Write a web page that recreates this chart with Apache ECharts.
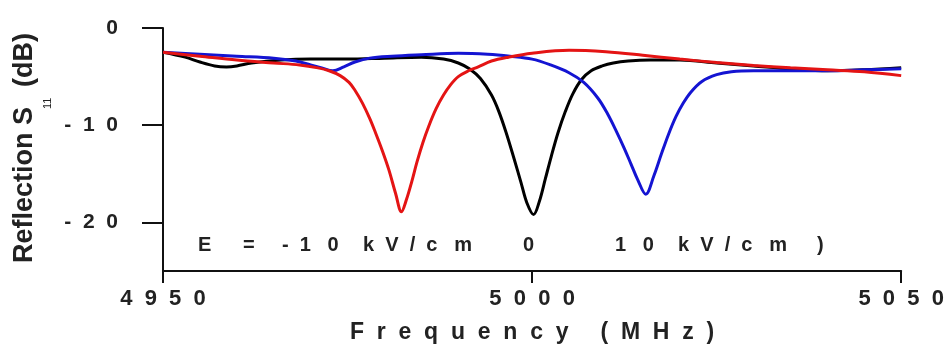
<!DOCTYPE html>
<html><head><meta charset="utf-8">
<script src="https://cdn.jsdelivr.net/npm/echarts@6/dist/echarts.min.js"></script>
<style>html,body{margin:0;padding:0;background:#fff}#c{width:947px;height:350px}</style>
</head><body><div id="c"></div>
<script>
// Data (frequency in MHz, reflection S11 in dB)
const fBlack = [4950,4953,4955,4957,4958.6,4960,4962,4966,4970,4975,4980,4985,4988,4990,4991.5,4993,4994.5,4995.5,4996.5,4997.5,4998.5,4999.3,5000.2,5001,5001.8,5002.6,5003.5,5004.5,5005.5,5006.7,5008,5009.5,5011,5013,5016,5020,5025,5030,5035,5040,5045,5050];
const sBlack = [-2.5,-3.0,-3.5,-3.9,-4.0,-3.9,-3.6,-3.3,-3.2,-3.2,-3.1,-3.0,-3.2,-3.6,-4.2,-5.2,-6.9,-8.6,-10.8,-13.3,-15.9,-18.0,-19.2,-17.8,-15.5,-13.2,-10.8,-8.6,-6.8,-5.3,-4.4,-3.9,-3.6,-3.4,-3.3,-3.3,-3.6,-3.9,-4.2,-4.4,-4.3,-4.1];

const fBlue = [4950,4955,4960,4965,4968,4970,4971.5,4973,4974.5,4976,4978,4981,4985,4990,4994,4997,5000,5002.5,5005,5007,5008.9,5010.2,5011.4,5012.5,5013.4,5014.3,5015.4,5016.5,5017.5,5018.5,5019.5,5020.5,5021.5,5023,5025,5027,5030,5035,5040,5045,5050];
const sBlue = [-2.5,-2.7,-2.9,-3.1,-3.4,-3.8,-4.1,-4.4,-4.0,-3.5,-3.1,-2.9,-2.75,-2.6,-2.7,-2.9,-3.2,-3.8,-4.6,-5.6,-7.2,-8.8,-10.6,-12.4,-14.0,-15.6,-17.1,-15.2,-13.0,-10.9,-9.1,-7.7,-6.6,-5.5,-4.8,-4.5,-4.4,-4.4,-4.4,-4.3,-4.2];

const fRed = [4950,4955,4960,4965,4968.5,4971,4972.5,4974,4975.2,4976,4977,4978,4978.8,4979.7,4980.6,4981.5,4982.3,4983,4983.7,4984.4,4985.2,4986,4987,4988,4989,4990,4991.4,4992.7,4994.5,4996.8,5000,5005,5010,5015,5020,5025,5030,5035,5040,5045,5050];
const sRed = [-2.5,-2.9,-3.3,-3.6,-3.8,-4.1,-4.4,-4.9,-5.6,-6.4,-7.7,-9.3,-10.8,-12.6,-14.6,-17.0,-18.9,-17.6,-15.8,-13.8,-11.8,-10.1,-8.3,-6.9,-5.8,-5.0,-4.4,-4.0,-3.4,-3.0,-2.6,-2.3,-2.45,-2.8,-3.2,-3.55,-3.85,-4.1,-4.3,-4.5,-4.9];

const xTicks = [4950, 5000, 5050];
const yTicks = [0, -10, -20];

const pairs = (f, s) => f.map((v, i) => [v, s[i]]);
const spaced = v => String(v).split('').join('  ');

const chart = echarts.init(document.getElementById('c'), null, {renderer: 'canvas'});
const FONT = 'Liberation Sans';
const TXT = '#222';
const ann = (text, x) => ({type: 'text', x: x, y: 245, style: {text: text, font: 'bold 20px "Liberation Sans"', fill: TXT, align: 'left', verticalAlign: 'middle'}});
chart.setOption({
  animation: false,
  backgroundColor: '#fff',
  grid: {left: 163, right: 42, top: 28, bottom: 79, containLabel: false},
  xAxis: {
    type: 'value', min: 4950, max: 5050, interval: 50,
    axisLine: {show: true, onZero: false, lineStyle: {color: '#111', width: 2}},
    axisTick: {show: true, length: 12, lineStyle: {color: '#111', width: 2}, customValues: xTicks},
    axisLabel: {customValues: xTicks, formatter: v => spaced(v), color: TXT, fontFamily: FONT, fontWeight: 'bold', fontSize: 22, margin: 17},
    splitLine: {show: false},
    name: 'F  r  e  q  u  e  n  c  y     (  M  H  z  )', nameLocation: 'middle', nameGap: 50,
    nameTextStyle: {color: TXT, fontFamily: FONT, fontWeight: 'bold', fontSize: 23}
  },
  yAxis: {
    type: 'value', min: -25, max: 0, interval: 5,
    axisLine: {show: true, onZero: false, lineStyle: {color: '#111', width: 2}},
    axisTick: {show: true, length: 21, lineStyle: {color: '#111', width: 2}, customValues: yTicks},
    axisLabel: {customValues: yTicks, formatter: v => v === 0 ? '0' : spaced(v), color: TXT, fontFamily: FONT, fontWeight: 'bold', fontSize: 21, margin: 45},
    splitLine: {show: false}
  },
  series: [
    {type: 'line', data: pairs(fBlack, sBlack), smooth: 0.35, showSymbol: false, lineStyle: {color: '#000', width: 3}, z: 2},
    {type: 'line', data: pairs(fBlue, sBlue), smooth: 0.35, showSymbol: false, lineStyle: {color: '#1414d2', width: 3}, z: 3},
    {type: 'line', data: pairs(fRed, sRed), smooth: 0.35, showSymbol: false, lineStyle: {color: '#e41414', width: 3}, z: 4}
  ],
  graphic: [
    {type: 'text', x: 25, y: 263, rotation: Math.PI / 2, style: {text: 'Reflection S', font: 'bold 27px "Liberation Sans"', fill: TXT, align: 'left', verticalAlign: 'middle'}},
    {type: 'text', x: 48, y: 109, rotation: Math.PI / 2, style: {text: '11', font: '11px "Liberation Sans"', fill: TXT, align: 'left', verticalAlign: 'middle'}},
    {type: 'text', x: 25, y: 87, rotation: Math.PI / 2, style: {text: '(dB)', font: 'bold 27px "Liberation Sans"', fill: TXT, align: 'left', verticalAlign: 'middle'}},
    ann('E', 198), ann('=', 243), ann('-  1   0', 282), ann('k  V  /  c   m', 363),
    ann('0', 523),
    ann('1   0', 615), ann('k  V  /  c   m', 678), ann(')', 817)
  ]
});
</script></body></html>
